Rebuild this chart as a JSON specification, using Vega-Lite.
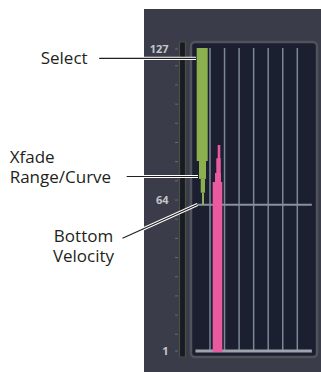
{
  "$schema": "https://vega.github.io/schema/vega-lite/v6.json",
  "width": 321,
  "height": 372,
  "autosize": {"type": "fit", "contains": "padding"},
  "padding": 0,
  "background": "white",
  "config": {"view": {"stroke": null}},
  "datasets": {
    "panel": [{"c": -3.536, "c2": 8.629, "v": 143.69, "v2": -7.75}],
    "frame": [{"c": -0.306, "c2": 8.354, "v": 129.92, "v2": -1.49}],
    "meter": [{"c": -1.097, "c2": -0.684, "v": 129.92, "v2": -1.49}],
    "columns": [
      {"c": 1, "v": 127.4, "v2": 1}, {"c": 2, "v": 127.4, "v2": 1}, {"c": 3, "v": 127.4, "v2": 1},
      {"c": 4, "v": 127.4, "v2": 1}, {"c": 5, "v": 127.4, "v2": 1}, {"c": 6, "v": 127.4, "v2": 1},
      {"c": 7, "v": 127.4, "v2": 1}
    ],
    "bottomVel": [{"c": 0, "c2": 8, "v": 62}],
    "floor": [{"c": 0, "c2": 8, "v": 1}],
    "green": [
      {"c": 0.086, "c2": 0.842, "v": 127.4, "v2": 80.3},
      {"c": 0.244, "c2": 0.725, "v": 80.3, "v2": 72.8},
      {"c": 0.361, "c2": 0.656, "v": 72.8, "v2": 67.05},
      {"c": 0.45, "c2": 0.588, "v": 67.05, "v2": 61.9}
    ],
    "pink": [
      {"c": 1.529, "c2": 1.708, "v": 86.95, "v2": 0.6},
      {"c": 1.433, "c2": 1.735, "v": 81.4, "v2": 0.6},
      {"c": 1.344, "c2": 1.756, "v": 75.3, "v2": 0.6},
      {"c": 1.186, "c2": 1.845, "v": 71.5, "v2": 0.6}
    ],
    "ticks": [
      {"v": 127}, {"v": 120}, {"v": 112}, {"v": 104}, {"v": 96}, {"v": 88}, {"v": 80}, {"v": 72},
      {"v": 64}, {"v": 56}, {"v": 48}, {"v": 40}, {"v": 32}, {"v": 24}, {"v": 16}, {"v": 8}, {"v": 1}
    ],
    "tickLabels": [
      {"label": "127", "v": 126.5},
      {"label": "64", "v": 63.7},
      {"label": "1", "v": 0.8}
    ],
    "leaders": [
      {"id": "select", "c": -6.615, "v": 123.1},
      {"id": "select", "c": 0.038, "v": 123.1},
      {"id": "xfade", "c": -4.725, "v": 73.8},
      {"id": "xfade", "c": 0.175, "v": 73.8},
      {"id": "bottom", "c": -5.014, "v": 48.03},
      {"id": "bottom", "c": 0.141, "v": 62.13}
    ],
    "notesLeft": [
      {"text": ["Select"], "c": -10.636, "v": 120.6},
      {"text": ["Xfade", "Range/Curve"], "c": -12.77, "v": 79.6}
    ],
    "notesCenter": [
      {"text": ["Bottom", "Velocity"], "c": -7.694, "v": 46.6}
    ]
  },
  "layer": [
    {
      "data": {"name": "panel"},
      "mark": {"type": "rect", "fill": "#3a3d49"},
      "encoding": {
        "x": {"field": "c", "type": "quantitative", "scale": {"domain": [-13.433, 8.629], "nice": false, "zero": false}, "axis": null},
        "x2": {"field": "c2"},
        "y": {"field": "v", "type": "quantitative", "scale": {"domain": [-7.75, 147.44], "nice": false, "zero": false}, "axis": null},
        "y2": {"field": "v2"}
      }
    },
    {
      "data": {"name": "frame"},
      "mark": {"type": "rect", "fill": "#1c1f30", "stroke": "#50535c", "strokeWidth": 2.5, "cornerRadius": 4},
      "encoding": {
        "x": {"field": "c", "type": "quantitative", "scale": {"domain": [-13.433, 8.629], "nice": false, "zero": false}, "axis": null},
        "x2": {"field": "c2"},
        "y": {"field": "v", "type": "quantitative", "scale": {"domain": [-7.75, 147.44], "nice": false, "zero": false}, "axis": null},
        "y2": {"field": "v2"}
      }
    },
    {
      "data": {"name": "meter"},
      "mark": {"type": "rect", "fill": "#181b25", "stroke": "#4a4f3e", "strokeWidth": 1.2},
      "encoding": {
        "x": {"field": "c", "type": "quantitative", "scale": {"domain": [-13.433, 8.629], "nice": false, "zero": false}, "axis": null},
        "x2": {"field": "c2"},
        "y": {"field": "v", "type": "quantitative", "scale": {"domain": [-7.75, 147.44], "nice": false, "zero": false}, "axis": null},
        "y2": {"field": "v2"}
      }
    },
    {
      "data": {"name": "columns"},
      "mark": {"type": "rule", "stroke": "#7b8796", "strokeWidth": 1.5},
      "encoding": {
        "x": {"field": "c", "type": "quantitative", "scale": {"domain": [-13.433, 8.629], "nice": false, "zero": false}, "axis": null},
        "y": {"field": "v", "type": "quantitative", "scale": {"domain": [-7.75, 147.44], "nice": false, "zero": false}, "axis": null},
        "y2": {"field": "v2"}
      }
    },
    {
      "data": {"name": "bottomVel"},
      "mark": {"type": "rule", "stroke": "#87919f", "strokeWidth": 2},
      "encoding": {
        "x": {"field": "c", "type": "quantitative", "scale": {"domain": [-13.433, 8.629], "nice": false, "zero": false}, "axis": null},
        "x2": {"field": "c2"},
        "y": {"field": "v", "type": "quantitative", "scale": {"domain": [-7.75, 147.44], "nice": false, "zero": false}, "axis": null}
      }
    },
    {
      "data": {"name": "floor"},
      "mark": {"type": "rule", "stroke": "#9ea4ae", "strokeWidth": 3},
      "encoding": {
        "x": {"field": "c", "type": "quantitative", "scale": {"domain": [-13.433, 8.629], "nice": false, "zero": false}, "axis": null},
        "x2": {"field": "c2"},
        "y": {"field": "v", "type": "quantitative", "scale": {"domain": [-7.75, 147.44], "nice": false, "zero": false}, "axis": null}
      }
    },
    {
      "data": {"name": "green"},
      "mark": {"type": "rect", "fill": "#8db04f"},
      "encoding": {
        "x": {"field": "c", "type": "quantitative", "scale": {"domain": [-13.433, 8.629], "nice": false, "zero": false}, "axis": null},
        "x2": {"field": "c2"},
        "y": {"field": "v", "type": "quantitative", "scale": {"domain": [-7.75, 147.44], "nice": false, "zero": false}, "axis": null},
        "y2": {"field": "v2"}
      }
    },
    {
      "data": {"name": "pink"},
      "mark": {"type": "rect", "fill": "#ea5a9f"},
      "encoding": {
        "x": {"field": "c", "type": "quantitative", "scale": {"domain": [-13.433, 8.629], "nice": false, "zero": false}, "axis": null},
        "x2": {"field": "c2"},
        "y": {"field": "v", "type": "quantitative", "scale": {"domain": [-7.75, 147.44], "nice": false, "zero": false}, "axis": null},
        "y2": {"field": "v2"}
      }
    },
    {
      "data": {"name": "ticks"},
      "mark": {"type": "tick", "orient": "horizontal", "color": "#7a7e88", "thickness": 1, "size": 3},
      "encoding": {
        "x": {"datum": -1.3, "type": "quantitative", "scale": {"domain": [-13.433, 8.629], "nice": false, "zero": false}, "axis": null},
        "y": {"field": "v", "type": "quantitative", "scale": {"domain": [-7.75, 147.44], "nice": false, "zero": false}, "axis": null}
      }
    },
    {
      "data": {"name": "tickLabels"},
      "mark": {"type": "text", "align": "right", "baseline": "middle", "font": "Open Sans", "fontSize": 11, "fontWeight": "bold", "color": "#c3c6cc"},
      "encoding": {
        "x": {"datum": -1.85, "type": "quantitative", "scale": {"domain": [-13.433, 8.629], "nice": false, "zero": false}, "axis": null},
        "y": {"field": "v", "type": "quantitative", "scale": {"domain": [-7.75, 147.44], "nice": false, "zero": false}, "axis": null},
        "text": {"field": "label"}
      }
    },
    {
      "data": {"name": "leaders"},
      "mark": {"type": "line", "stroke": "#ffffff", "strokeWidth": 3.2},
      "encoding": {
        "x": {"field": "c", "type": "quantitative", "scale": {"domain": [-13.433, 8.629], "nice": false, "zero": false}, "axis": null},
        "y": {"field": "v", "type": "quantitative", "scale": {"domain": [-7.75, 147.44], "nice": false, "zero": false}, "axis": null},
        "detail": {"field": "id"}
      }
    },
    {
      "data": {"name": "leaders"},
      "mark": {"type": "line", "stroke": "#231f20", "strokeWidth": 1.2},
      "encoding": {
        "x": {"field": "c", "type": "quantitative", "scale": {"domain": [-13.433, 8.629], "nice": false, "zero": false}, "axis": null},
        "y": {"field": "v", "type": "quantitative", "scale": {"domain": [-7.75, 147.44], "nice": false, "zero": false}, "axis": null},
        "detail": {"field": "id"}
      }
    },
    {
      "data": {"name": "notesLeft"},
      "mark": {"type": "text", "align": "left", "baseline": "alphabetic", "font": "Open Sans", "fontSize": 17, "lineHeight": 20.5, "color": "#231f20"},
      "encoding": {
        "x": {"field": "c", "type": "quantitative", "scale": {"domain": [-13.433, 8.629], "nice": false, "zero": false}, "axis": null},
        "y": {"field": "v", "type": "quantitative", "scale": {"domain": [-7.75, 147.44], "nice": false, "zero": false}, "axis": null},
        "text": {"field": "text"}
      }
    },
    {
      "data": {"name": "notesCenter"},
      "mark": {"type": "text", "align": "center", "baseline": "alphabetic", "font": "Open Sans", "fontSize": 17, "lineHeight": 20.5, "color": "#231f20"},
      "encoding": {
        "x": {"field": "c", "type": "quantitative", "scale": {"domain": [-13.433, 8.629], "nice": false, "zero": false}, "axis": null},
        "y": {"field": "v", "type": "quantitative", "scale": {"domain": [-7.75, 147.44], "nice": false, "zero": false}, "axis": null},
        "text": {"field": "text"}
      }
    }
  ]
}
